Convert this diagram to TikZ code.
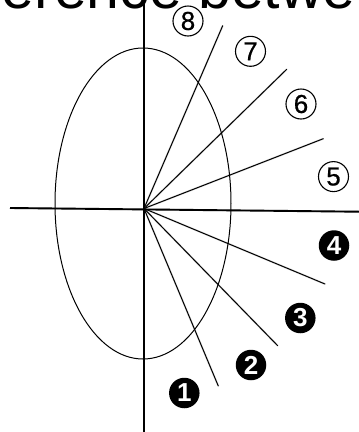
\documentclass[tikz,border=0pt]{standalone}
\usepackage{fontspec}
\usetikzlibrary{shapes.geometric}
\setmainfont{Liberation Sans}
\newfontfamily\lblfont[FakeBold=0.6]{Liberation Sans}
\begin{document}
\begin{tikzpicture}[x=1pt,y=-1pt,
  ray/.style={line width=1pt, line cap=round},
  vaxis/.style={line width=1.1pt},
  haxis/.style={line width=1.9pt},
  shade/.style={black!12, line width=2pt, shift={(0.8pt,-1.6pt)}},
  lblo/.style={circle, draw, line width=1.1pt, minimum size=30pt, inner sep=0pt,
    font=\lblfont\fontsize{26}{26}\selectfont},
  lblf/.style={circle, fill=black, minimum size=30.5pt, inner sep=0pt, text=white,
    font=\bfseries\fontsize{26}{26}\selectfont}]
\useasboundingbox (0,0) rectangle (359,432);
\node[anchor=base east, inner sep=0pt, font=\fontsize{59}{59}\selectfont] (title) at (356,8) {erence betwe};
% axes
\coordinate (O) at (144,208.5);
\coordinate (vt) at (144,0);
\coordinate (vb) at (144,432);
\coordinate (hl) at (10,208);
\coordinate (hr) at (359,211.7);
% rays
\coordinate (r8) at (222.7,25.7);
\coordinate (r7) at (286.7,69.3);
\coordinate (r6) at (323.3,138.7);
\coordinate (r4) at (325,284);
\coordinate (r3) at (277.7,345.7);
\coordinate (r1) at (218.3,386);
% shadows
\draw[shade] (hl) -- (hr);
\foreach \r in {r8,r7,r6,r4,r3,r1} \draw[shade] (O) -- (\r);
\draw[vaxis] (vt) -- (vb);
\draw[haxis] (hl) -- (hr);
% ellipse
\node[draw, line width=1pt, ellipse, minimum width=176pt, minimum height=311pt, inner sep=0pt] (ell) at (143,203.5) {};
\foreach \r in {r8,r7,r6,r4,r3,r1} \draw[ray] (O) -- (\r);
% labels
\node[lblo] (l8) at (188,21) {8};
\node[lblo] (l7) at (250.5,51.3) {7};
\node[lblo] (l6) at (301,104) {6};
\node[lblo] (l5) at (333.5,176.6) {5};
\node[lblf] (l4) at (334,245.5) {4};
\node[lblf] (l3) at (300.3,318) {3};
\node[lblf] (l2) at (251,365) {2};
\node[lblf] (l1) at (184.3,393) {1};
\end{tikzpicture}
\end{document}
